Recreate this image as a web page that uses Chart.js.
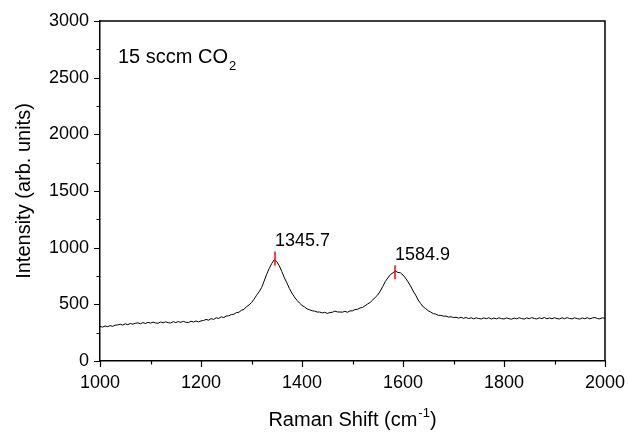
<!DOCTYPE html>
<html>
<head>
<meta charset="utf-8">
<title>Raman spectrum - 15 sccm CO2</title>
<script src="https://cdn.jsdelivr.net/npm/chart.js@4.4.1/dist/chart.umd.min.js"></script>
<style>
  html, body { margin: 0; padding: 0; background: #fff; }
</style>
</head>
<body>
<canvas id="ramanChart" width="629" height="435"></canvas>
<script>
// Raman shift sampling (cm-1): 1000 .. 2000 every 5
const shiftStart = 1000;
const shiftStep = 5;

// Intensity, one value per 5 cm-1
const intensity = [
    305, 299, 309, 303, 312, 306, 316, 318, 324, 317, 328, 321, 331, 325, 333, 337, 328, 339, 331, 341, // 1000
    334, 343, 336, 333, 344, 337, 346, 338, 335, 347, 339, 348, 341, 350, 342, 339, 351, 344, 353, 345, // 1100
    354, 357, 367, 360, 374, 367, 382, 375, 390, 383, 397, 399, 410, 412, 427, 430, 447, 456, 478, 494, // 1200
    515, 545, 580, 610, 648, 705, 765, 815, 860, 893, 878, 840, 790, 735, 690, 640, 600, 565, 535, 512, // 1300
    490, 477, 460, 452, 443, 440, 432, 432, 424, 430, 420, 427, 430, 440, 433, 432, 431, 438, 430, 442, // 1400
    443, 454, 456, 468, 472, 488, 503, 517, 538, 562, 583, 617, 658, 702, 733, 762, 778, 794, 781, 778, // 1500
    758, 732, 698, 662, 618, 582, 538, 507, 478, 462, 443, 432, 418, 414, 403, 402, 396, 396, 388, 390, // 1600
    384, 386, 378, 386, 376, 384, 374, 382, 372, 381, 375, 371, 380, 373, 382, 370, 379, 372, 381, 374, // 1700
    371, 380, 373, 369, 379, 372, 382, 374, 370, 380, 373, 383, 375, 371, 381, 374, 384, 372, 380, 373, // 1800
    382, 374, 371, 381, 373, 383, 375, 372, 381, 374, 370, 380, 373, 382, 372, 380, 384, 374, 372, 381, // 1900
    377                                                                                                   // 2000
];

// Peak positions, marker heights and their labels
const peakShifts = [1345.7, 1584.9];
const peakMarks = [905, 782];
const peakLabels = ['1345.7', '1584.9'];

// Axis ranges and tick steps
const xRange = [1000, 2000];
const yRange = [0, 3000];
const xMajor = 200;
const yMajor = 500;

const points = intensity.map((v, i) => ({ x: shiftStart + i * shiftStep, y: v }));

const fontFamily = '"Liberation Sans", Arial, Helvetica, sans-serif';

// Outside ticks (major + minor), top/right frame, peak marks and text
const extrasPlugin = {
    id: 'extras',
    afterDraw(chart) {
        const { ctx, chartArea, scales } = chart;
        const xs = scales.x;
        const ys = scales.y;
        ctx.save();
        ctx.strokeStyle = '#000';
        ctx.lineWidth = 1.5;
        ctx.beginPath();
        ctx.moveTo(chartArea.left, chartArea.top);
        ctx.lineTo(chartArea.right, chartArea.top);
        ctx.lineTo(chartArea.right, chartArea.bottom);
        ctx.stroke();

        ctx.lineWidth = 1.2;
        ctx.beginPath();
        xs.ticks.forEach(t => {
            const px = Math.round(xs.getPixelForValue(t.value)) + 0.5;
            const len = t.value % xMajor === 0 ? 6 : 3.5;
            ctx.moveTo(px, chartArea.bottom);
            ctx.lineTo(px, chartArea.bottom + len);
        });
        ys.ticks.forEach(t => {
            const py = Math.round(ys.getPixelForValue(t.value)) + 0.5;
            const len = t.value % yMajor === 0 ? 6 : 3.5;
            ctx.moveTo(chartArea.left, py);
            ctx.lineTo(chartArea.left - len, py);
        });
        ctx.stroke();

        // peak markers (red) and their labels
        ctx.fillStyle = '#000';
        ctx.font = '18px ' + fontFamily;
        ctx.textBaseline = 'alphabetic';
        ctx.textAlign = 'left';
        peakShifts.forEach((s, i) => {
            const px = Math.round(xs.getPixelForValue(s));
            const py = ys.getPixelForValue(peakMarks[i]);
            ctx.beginPath();
            ctx.strokeStyle = '#ff0000';
            ctx.lineWidth = 1.5;
            ctx.moveTo(px, py - 7);
            ctx.lineTo(px, py + 7);
            ctx.stroke();
            ctx.fillText(peakLabels[i], px, py - 12);
        });

        // sample label
        ctx.font = '20px ' + fontFamily;
        const lx = chartArea.left + 18;
        const ly = chartArea.top + 42;
        const main = '15 sccm CO';
        ctx.fillText(main, lx, ly);
        const mw = ctx.measureText(main).width;
        ctx.font = '13px ' + fontFamily;
        ctx.fillText('2', lx + mw + 1, ly + 7);

        // x axis title with superscript
        ctx.font = '20px ' + fontFamily;
        const t1 = 'Raman Shift (cm';
        const t3 = ')';
        const w1 = ctx.measureText(t1).width;
        const w3 = ctx.measureText(t3).width;
        ctx.font = '13px ' + fontFamily;
        const t2 = '-1';
        const w2 = ctx.measureText(t2).width;
        const total = w1 + w2 + w3 + 1;
        const cx = (chartArea.left + chartArea.right) / 2;
        const by = 426;
        const x0 = cx - total / 2;
        ctx.font = '20px ' + fontFamily;
        ctx.fillText(t1, x0, by);
        ctx.font = '13px ' + fontFamily;
        ctx.fillText(t2, x0 + w1 + 1, by - 9);
        ctx.font = '20px ' + fontFamily;
        ctx.fillText(t3, x0 + w1 + w2 + 1, by);
        ctx.restore();
    }
};

const ctx = document.getElementById('ramanChart').getContext('2d');
new Chart(ctx, {
    type: 'line',
    data: {
        datasets: [{
            label: '15 sccm CO2',
            data: points,
            borderColor: '#000',
            borderWidth: 1,
            pointRadius: 0,
            tension: 0,
            fill: false
        }]
    },
    options: {
        responsive: false,
        animation: false,
        parsing: false,
        layout: { padding: { left: 0, top: 21, right: 24, bottom: 0 } },
        plugins: {
            legend: { display: false },
            tooltip: { enabled: false }
        },
        scales: {
            x: {
                type: 'linear',
                min: xRange[0],
                max: xRange[1],
                grid: { display: false, drawTicks: false },
                border: { display: true, color: '#000', width: 1.5 },
                ticks: {
                    stepSize: 100,
                    autoSkip: false,
                    maxRotation: 0,
                    padding: 11,
                    color: '#000',
                    font: { size: 18, family: fontFamily },
                    callback: v => (v % xMajor === 0 ? v : '')
                },
                afterFit: s => {
                    s.height = 74;
                    s.paddingLeft = 0;
                    s.paddingRight = 0;
                }
            },
            y: {
                min: yRange[0],
                max: yRange[1],
                grid: { display: false, drawTicks: false },
                border: { display: true, color: '#000', width: 1.5 },
                ticks: {
                    stepSize: 250,
                    autoSkip: false,
                    padding: 11,
                    color: '#000',
                    font: { size: 18, family: fontFamily },
                    callback: v => (v % yMajor === 0 ? v : '')
                },
                title: {
                    display: true,
                    text: 'Intensity (arb. units)',
                    color: '#000',
                    font: { size: 20, family: fontFamily },
                    padding: { top: 12, bottom: 0 }
                },
                afterFit: s => {
                    s.width = 100;
                    s.paddingTop = 0;
                    s.paddingBottom = 0;
                }
            }
        }
    },
    plugins: [extrasPlugin]
});
</script>
</body>
</html>
